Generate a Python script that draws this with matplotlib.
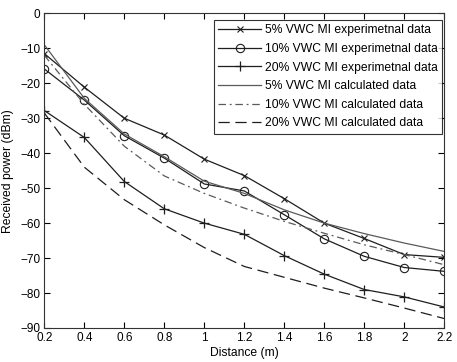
import matplotlib
matplotlib.use("Agg")
import matplotlib.pyplot as plt

plt.rcParams["font.family"] = ["Liberation Sans", "DejaVu Sans"]

# distance (m)
distance = [0.2, 0.4, 0.6, 0.8, 1.0, 1.2, 1.4, 1.6, 1.8, 2.0, 2.2]

# measured received power (dBm)
exp_5 = [-11.5, -21.1, -30.0, -34.8, -41.7, -46.4, -53.0, -60.0, -64.4, -69.0, -69.8]
exp_10 = [-15.9, -24.8, -35.0, -41.4, -48.8, -50.8, -57.6, -64.5, -69.5, -72.7, -73.8]
exp_20 = [-27.8, -35.5, -48.1, -55.9, -60.0, -63.2, -69.3, -74.6, -79.0, -81.1, -84.0]

# calculated received power (dBm)
calc_5 = [-9.0, -24.3, -34.5, -41.0, -48.0, -51.5, -56.2, -60.0, -63.0, -65.7, -68.1]
calc_10 = [-12.0, -26.0, -38.0, -46.5, -51.5, -55.7, -59.5, -62.9, -66.2, -69.0, -71.9]
calc_20 = [-28.5, -44.0, -53.3, -60.5, -67.0, -72.4, -75.5, -78.6, -81.4, -84.3, -87.3]

labels = [
    "5% VWC MI experimetnal data",
    "10% VWC MI experimetnal data",
    "20% VWC MI experimetnal data",
    "5% VWC MI calculated data",
    "10% VWC MI calculated data",
    "20% VWC MI calculated data",
]

fig = plt.figure(figsize=(4.57, 3.62), dpi=100)
ax = fig.add_axes([0.097, 0.094, 0.875, 0.869])

dark = "#1e1e1e"
grey = "#5a5a5a"

ax.plot(distance, exp_5, color=dark, lw=0.9, marker="x", ms=4, mew=0.8, label=labels[0])
ax.plot(distance, exp_10, color=dark, lw=0.9, marker="o", ms=6, mfc="none", mew=0.8, label=labels[1])
ax.plot(distance, exp_20, color=dark, lw=0.9, marker="+", ms=7, mew=0.9, label=labels[2])
ax.plot(distance, calc_5, color=grey, lw=0.9, ls="-", label=labels[3])
ax.plot(distance, calc_10, color=grey, lw=0.9, dashes=(6, 3, 1.5, 3), label=labels[4])
ax.plot(distance, calc_20, color=dark, lw=0.9, dashes=(9, 4.5), label=labels[5])

ax.set_xlim(0.2, 2.2)
ax.set_ylim(-90, 0)
ax.set_xticks(distance)
ax.set_xticklabels(["0.2", "0.4", "0.6", "0.8", "1", "1.2", "1.4", "1.6", "1.8", "2", "2.2"])
ax.set_yticks(range(-90, 1, 10))
ax.tick_params(direction="in", top=True, right=True, length=4, width=0.8,
               labelsize=8.5, pad=3)
for s in ax.spines.values():
    s.set_linewidth(0.8)
    s.set_color("#333333")

ax.set_xlabel("Distance (m)", fontsize=8.75, labelpad=2)
ax.set_ylabel("Received power (dBm)", fontsize=8.75, labelpad=4)

leg = ax.legend(loc="upper right", bbox_to_anchor=(0.995, 0.979),
                fontsize=8.7, frameon=True, fancybox=False,
                edgecolor="black", handlelength=3.6, handletextpad=0.3,
                borderaxespad=0, labelspacing=0.55, borderpad=0.35)
leg.get_frame().set_linewidth(0.8)

fig.savefig("out.png", dpi=100)
